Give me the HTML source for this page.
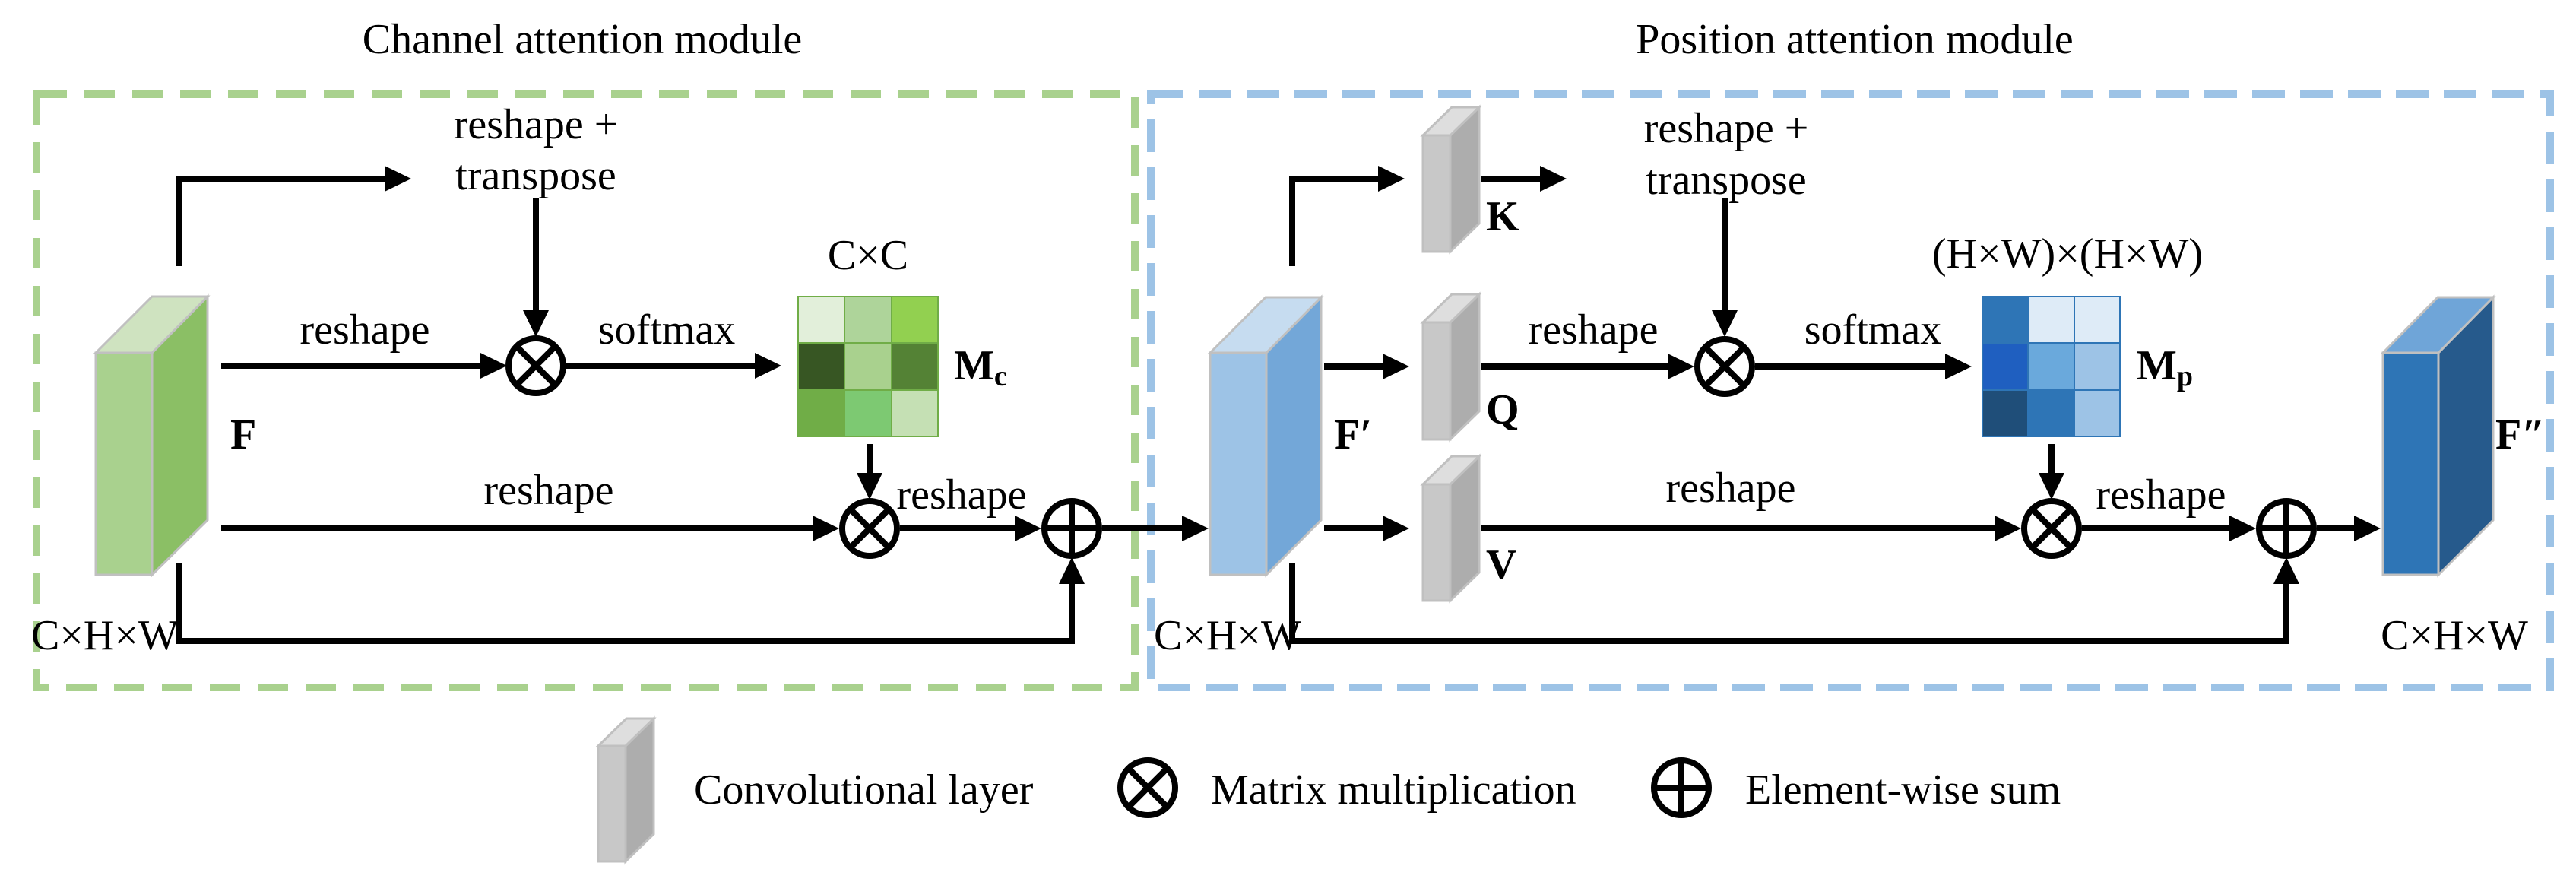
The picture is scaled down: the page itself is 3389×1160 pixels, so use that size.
<!DOCTYPE html>
<html><head><meta charset="utf-8"><style>
html,body{margin:0;padding:0;background:#fff;}
svg{display:block;font-family:"Liberation Serif","Times New Roman",serif;}
svg text{font-family:"Liberation Serif","Times New Roman",serif;font-size:56px;fill:#000;}
.b{font-weight:bold;}
</style></head><body>
<svg width="3389" height="1160" viewBox="0 0 3389 1160" xmlns="http://www.w3.org/2000/svg" font-family="Liberation Serif, Times New Roman, serif" font-size="56">
<defs>
<g id="ot"><circle r="36" fill="#fff" stroke="#000" stroke-width="8"/><line x1="-25" y1="-25" x2="25" y2="25" stroke="#000" stroke-width="8"/><line x1="25" y1="-25" x2="-25" y2="25" stroke="#000" stroke-width="8"/></g>
<g id="op"><circle r="36" fill="#fff" stroke="#000" stroke-width="8"/><line x1="0" y1="-36" x2="0" y2="36" stroke="#000" stroke-width="8"/><line x1="-36" y1="0" x2="36" y2="0" stroke="#000" stroke-width="8"/></g>
</defs>
<text x="766" y="70" text-anchor="middle">Channel attention module</text>
<text x="2440" y="70" text-anchor="middle">Position attention module</text>
<rect x="48" y="124" width="1445" height="780" fill="none" stroke="#a9d18e" stroke-width="10" stroke-dasharray="40 23"/>
<rect x="1514" y="124" width="1841" height="780" fill="none" stroke="#9dc3e6" stroke-width="10" stroke-dasharray="43 20"/>

<g stroke="#000" stroke-width="8" fill="none">
<polyline points="236,350 236,235 510,235"/>
<line x1="705" y1="261" x2="705" y2="415"/>
<line x1="291" y1="481" x2="640" y2="481"/>
<line x1="745" y1="481" x2="995" y2="481"/>
<line x1="1144" y1="584" x2="1144" y2="630"/>
<line x1="291" y1="695" x2="1080" y2="695"/>
<line x1="1184" y1="695" x2="1345" y2="695"/>
<line x1="1450" y1="695" x2="1565" y2="695"/>
<polyline points="236,741 236,843 1410,843 1410,765"/>
<polyline points="1700,350 1700,235 1820,235"/>
<line x1="1948" y1="235" x2="2030" y2="235"/>
<line x1="2269" y1="261" x2="2269" y2="415"/>
<line x1="1742" y1="482" x2="1825" y2="482"/>
<line x1="1742" y1="695" x2="1825" y2="695"/>
<line x1="1948" y1="482" x2="2205" y2="482"/>
<line x1="2309" y1="482" x2="2565" y2="482"/>
<line x1="2699" y1="584" x2="2699" y2="630"/>
<line x1="1948" y1="695" x2="2635" y2="695"/>
<line x1="2739" y1="695" x2="2940" y2="695"/>
<line x1="3048" y1="695" x2="3105" y2="695"/>
<polyline points="1700,741 1700,843 3008,843 3008,765"/>
</g>
<g fill="#000">
<polygon points="541,235 506,218 506,252"/>
<polygon points="667,481 632,464 632,498"/>
<polygon points="1028,481 993,464 993,498"/>
<polygon points="1104,695 1069,678 1069,712"/>
<polygon points="1370,695 1335,678 1335,712"/>
<polygon points="1590,695 1555,678 1555,712"/>
<polygon points="1848,235 1813,218 1813,252"/>
<polygon points="2061,235 2026,218 2026,252"/>
<polygon points="1854,482 1819,465 1819,499"/>
<polygon points="1854,695 1819,678 1819,712"/>
<polygon points="2229,482 2194,465 2194,499"/>
<polygon points="2594,482 2559,465 2559,499"/>
<polygon points="2659,695 2624,678 2624,712"/>
<polygon points="2968,695 2933,678 2933,712"/>
<polygon points="3132,695 3097,678 3097,712"/>
<polygon points="705,443 688,408 722,408"/>
<polygon points="1144,657 1127,622 1161,622"/>
<polygon points="2269,443 2252,408 2286,408"/>
<polygon points="2699,657 2682,622 2716,622"/>
<polygon points="1410,733 1393,768 1427,768"/>
<polygon points="3008,733 2991,768 3025,768"/>
</g>
<use href="#ot" x="705" y="481"/>
<use href="#ot" x="1144" y="695"/>
<use href="#op" x="1410" y="695"/>
<use href="#ot" x="2269" y="482"/>
<use href="#ot" x="2699" y="695"/>
<use href="#op" x="3008" y="695"/>

<g stroke="#c0c0c0" stroke-width="3">
<rect x="126" y="464" width="74" height="292" fill="#a9d18e"/>
<polygon points="200,464 273,390 273,684 200,756" fill="#8bbf65"/>
<polygon points="126,464 200,390 273,390 200,464" fill="#cfe3c0"/>
<rect x="1592" y="464" width="74" height="292" fill="#9dc3e6"/>
<polygon points="1666,464 1738,391 1738,684 1666,756" fill="#73a7d8"/>
<polygon points="1592,464 1665,391 1738,391 1666,464" fill="#c6dcf0"/>
<rect x="3135" y="464" width="73" height="292" fill="#2e75b6"/>
<polygon points="3208,464 3280,391 3280,684 3208,756" fill="#265a8c"/>
<polygon points="3135,464 3207,391 3280,391 3208,464" fill="#6fa5d8"/>
<rect x="1872" y="178" width="36" height="153" fill="#c8c8c8"/>
<polygon points="1908,178 1946,141 1946,294 1908,331" fill="#adadad"/>
<polygon points="1872,178 1910,141 1946,141 1908,178" fill="#dedede"/>
<rect x="1872" y="424" width="36" height="154" fill="#c8c8c8"/>
<polygon points="1908,424 1946,387 1946,541 1908,578" fill="#adadad"/>
<polygon points="1872,424 1910,387 1946,387 1908,424" fill="#dedede"/>
<rect x="1872" y="637" width="36" height="153" fill="#c8c8c8"/>
<polygon points="1908,637 1946,600 1946,753 1908,790" fill="#adadad"/>
<polygon points="1872,637 1910,600 1946,600 1908,637" fill="#dedede"/>
<rect x="787" y="981" width="36" height="152" fill="#c8c8c8"/>
<polygon points="823,981 860,945 860,1097 823,1133" fill="#adadad"/>
<polygon points="787,981 824,945 860,945 823,981" fill="#dedede"/>
</g>

<g stroke="#70ad47" stroke-width="2">
<rect x="1050" y="390" width="61" height="61" fill="#e2efda"/>
<rect x="1111" y="390" width="62" height="61" fill="#aed49a"/>
<rect x="1173" y="390" width="61" height="61" fill="#92d050"/>
<rect x="1050" y="451" width="61" height="62" fill="#375623"/>
<rect x="1111" y="451" width="62" height="62" fill="#a9d18e"/>
<rect x="1173" y="451" width="61" height="62" fill="#548235"/>
<rect x="1050" y="513" width="61" height="61" fill="#70ad47"/>
<rect x="1111" y="513" width="62" height="61" fill="#7dc972"/>
<rect x="1173" y="513" width="61" height="61" fill="#c5e0b4"/>
</g>
<g stroke="#2e75b6" stroke-width="2">
<rect x="2608" y="390" width="60" height="61" fill="#2e75b6"/>
<rect x="2668" y="390" width="61" height="61" fill="#deebf7"/>
<rect x="2729" y="390" width="60" height="61" fill="#deebf7"/>
<rect x="2608" y="451" width="60" height="62" fill="#1f5fc0"/>
<rect x="2668" y="451" width="61" height="62" fill="#6aa9dc"/>
<rect x="2729" y="451" width="60" height="62" fill="#9dc3e6"/>
<rect x="2608" y="513" width="60" height="61" fill="#1f4e79"/>
<rect x="2668" y="513" width="61" height="61" fill="#2e75b6"/>
<rect x="2729" y="513" width="60" height="61" fill="#9dc3e6"/>
</g>

<text x="705" y="182" text-anchor="middle">reshape +</text>
<text x="705" y="249" text-anchor="middle">transpose</text>
<text x="480" y="452" text-anchor="middle">reshape</text>
<text x="877" y="452" text-anchor="middle">softmax</text>
<text x="1142" y="354" text-anchor="middle">C×C</text>
<text x="1255" y="499" class="b">M<tspan font-size="38" dy="8">c</tspan></text>
<text x="303" y="590" class="b">F</text>
<text x="722" y="663" text-anchor="middle">reshape</text>
<text x="1265" y="669" text-anchor="middle">reshape</text>
<text x="41" y="854">C×H×W</text>
<text x="2271" y="187" text-anchor="middle">reshape +</text>
<text x="2271" y="255" text-anchor="middle">transpose</text>
<text x="1955" y="303" class="b">K</text>
<text x="1955" y="557" class="b">Q</text>
<text x="1955" y="761" class="b">V</text>
<text x="1755" y="590" class="b">F′</text>
<text x="2096" y="452" text-anchor="middle">reshape</text>
<text x="2464" y="452" text-anchor="middle">softmax</text>
<text x="2720" y="352" text-anchor="middle">(H×W)×(H×W)</text>
<text x="2811" y="499" class="b">M<tspan font-size="38" dy="8">p</tspan></text>
<text x="2277" y="660" text-anchor="middle">reshape</text>
<text x="2843" y="669" text-anchor="middle">reshape</text>
<text x="1518" y="854">C×H×W</text>
<text x="3283" y="590" class="b">F″</text>
<text x="3229" y="854" text-anchor="middle">C×H×W</text>

<text x="913" y="1057">Convolutional layer</text>
<use href="#ot" x="1510" y="1036"/>
<text x="1593" y="1057">Matrix multiplication</text>
<use href="#op" x="2212" y="1036"/>
<text x="2296" y="1057">Element-wise sum</text>
</svg>
</body></html>
